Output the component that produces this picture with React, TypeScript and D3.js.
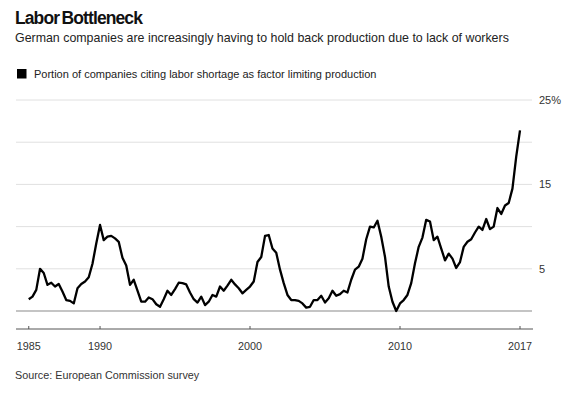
import React from "react";
import * as d3 from "d3";

const TITLE = "Labor Bottleneck";
const SUBTITLE = "German companies are increasingly having to hold back production due to lack of workers";
const LEGEND = "Portion of companies citing labor shortage as factor limiting production";
const SOURCE = "Source: European Commission survey";

// Quarterly, 1985 Q1 .. 2017 Q4 (plotted at quarter end)
const FIRST_QUARTER_END = new Date(1985, 3, 1);
const shortage = [
  1.4, 1.7, 2.5, 5.0, 4.5, 3.1, 3.35, 2.9, 3.2, 2.3,
  1.3, 1.2, 0.9, 2.7, 3.2, 3.5, 4.0, 5.6, 8.0, 10.2,
  8.4, 8.8, 8.9, 8.6, 8.2, 6.3, 5.4, 3.1, 3.7, 2.4,
  1.1, 1.1, 1.6, 1.4, 0.8, 0.5, 1.4, 2.4, 1.9, 2.6,
  3.35, 3.3, 3.15, 2.2, 1.4, 1.0, 1.7, 0.7, 1.1, 1.9,
  1.7, 2.9, 2.4, 3.0, 3.7, 3.15, 2.7, 2.1, 2.5, 2.9,
  3.5, 5.8, 6.4, 8.9, 9.0, 7.4, 6.9, 4.9, 3.3, 1.9,
  1.3, 1.3, 1.2, 0.9, 0.4, 0.5, 1.3, 1.3, 1.8, 1.0,
  1.5, 2.4, 1.8, 2.0, 2.4, 2.2, 3.7, 4.9, 5.25, 6.2,
  8.5, 10.0, 9.9, 10.7, 8.8, 6.4, 2.9, 1.1, 0.0, 0.9,
  1.3, 1.9, 3.3, 5.65, 7.6, 8.7, 10.8, 10.6, 8.4, 8.8,
  7.4, 6.0, 6.8, 6.2, 5.1, 5.8, 7.6, 8.2, 8.5, 9.3,
  10.0, 9.6, 10.9, 9.7, 10.0, 12.2, 11.5, 12.5, 12.8, 14.5,
  18.3, 21.4,
];

const xTickDates = [new Date(1985, 3, 1), new Date(1990, 0, 1), new Date(2000, 0, 1), new Date(2010, 0, 1), new Date(2018, 0, 1)];
const xTickLabels = ["1985", "1990", "2000", "2010", "2017"];
const yGrid = [0, 5, 10, 15, 20, 25];
const yLabelValues = [5, 15, 25];
const yLabels = ["5", "15", "25%"];

const FONT = "'Liberation Sans', Arial, sans-serif";

export default function App() {
  const data = shortage.map((v, i) => ({ date: d3.timeMonth.offset(FIRST_QUARTER_END, 3 * i), v }));
  const x = d3.scaleTime().domain([data[0].date, data[data.length - 1].date]).range([28.75, 520]);
  const y = d3.scaleLinear().domain([0, 25]).range([311, 100]);
  const line = d3.line<{ date: Date; v: number }>().x((d) => x(d.date)).y((d) => y(d.v)).curve(d3.curveLinear);
  const gridX0 = 16;
  const gridX1 = 532;
  const axisY = 329;

  return (
    <div style={{ position: "fixed", left: 0, top: 0 }}>
      <svg width={570} height={394} style={{ display: "block", background: "#fff" }} fontFamily={FONT}>
        <rect width={570} height={394} fill="#fff" />
        <text x={15} y={24} fontSize={17.5} fontWeight="bold" letterSpacing={-0.9} wordSpacing={-1.5} fill="#111">{TITLE}</text>
        <text x={15} y={42} fontSize={12.4} fill="#222">{SUBTITLE}</text>
        <rect x={17} y={69} width={9.5} height={9.5} fill="#000" />
        <text x={34} y={77.5} fontSize={11} fill="#222">{LEGEND}</text>

        {yGrid.map((g) => (
          <line key={g} x1={gridX0} x2={gridX1} y1={y(g)} y2={y(g)} stroke={g === 0 ? "#8a8a8a" : "#e0e0e0"} strokeWidth={g === 0 ? 1.2 : 1} />
        ))}
        {yLabelValues.map((v, i) => (
          <text key={v} x={539} y={y(v) + 4} fontSize={11} fill="#333">{yLabels[i]}</text>
        ))}

        <path d={line(data) || ""} fill="none" stroke="#000" strokeWidth={2.3} strokeLinejoin="round" />

        <line x1={gridX0} x2={gridX1 + 1} y1={axisY} y2={axisY} stroke="#555" strokeWidth={1} />
        {xTickDates.map((d, i) => (
          <g key={i}>
            <line x1={x(d)} x2={x(d)} y1={axisY - 3} y2={axisY} stroke="#555" strokeWidth={1} />
            <text x={x(d)} y={350} fontSize={10.8} textAnchor="middle" fill="#333">{xTickLabels[i]}</text>
          </g>
        ))}

        <text x={15} y={379} fontSize={10.8} fill="#333">{SOURCE}</text>
      </svg>
    </div>
  );
}
